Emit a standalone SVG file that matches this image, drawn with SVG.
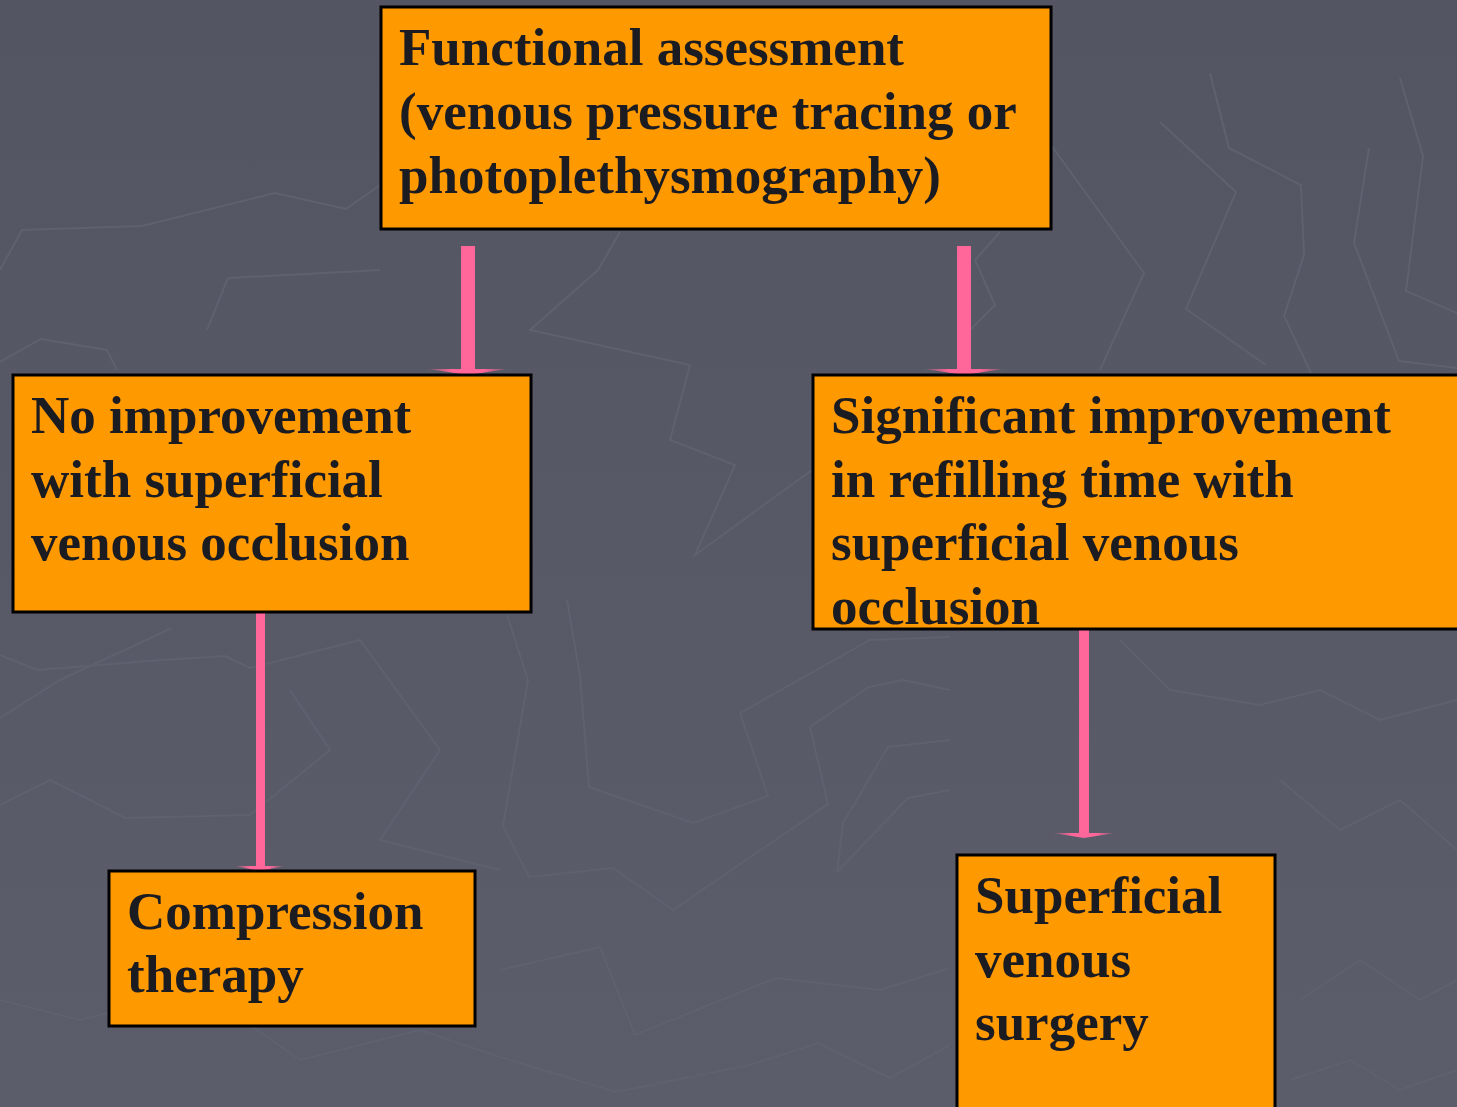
<svg xmlns="http://www.w3.org/2000/svg" width="1457" height="1107" viewBox="0 0 1457 1107">
<defs>
<linearGradient id="bg" x1="0" y1="0" x2="0" y2="1">
<stop offset="0" stop-color="#535563"/>
<stop offset="1" stop-color="#5b5d6b"/>
</linearGradient>
<linearGradient id="head" x1="0" y1="0" x2="1" y2="0">
<stop offset="0" stop-color="#ff6699" stop-opacity="0.2"/>
<stop offset="0.3" stop-color="#ff6699"/>
<stop offset="0.7" stop-color="#ff6699"/>
<stop offset="1" stop-color="#ff6699" stop-opacity="0.2"/>
</linearGradient>
</defs>
<style>
.bgl{fill:none;stroke:#5e616e;stroke-width:2}
.box{fill:#ff9900;stroke:#000;stroke-width:3}
.t{font-family:"Liberation Serif","Times New Roman",serif;font-weight:bold;font-size:53px;fill:#1b1b22}
.shaft{fill:#ff6699}
.head{fill:url(#head)}
</style>
<rect width="1457" height="1107" fill="url(#bg)"/>
<g id="background">
<polyline class="bgl" points="1210,73 1229,148 1301,185 1304,255 1284,316 1311,373"/>
<polyline class="bgl" points="1160,122 1236,192 1186,309 1266,365"/>
<polyline class="bgl" points="1369,148 1354,243 1399,361 1457,368"/>
<polyline class="bgl" points="1400,78 1423,156 1406,291 1457,313"/>
<polyline class="bgl" points="1040,130 1144,273 1100,370"/>
<polyline class="bgl" points="0,270 22,230 142,226 275,193 346,209 380,185"/>
<polyline class="bgl" points="207,330 228,278 380,270"/>
<polyline class="bgl" points="0,362 41,339 107,350 117,370"/>
<polyline class="bgl" points="620,232 598,270 530,330 690,365 670,440 735,465 695,555 812,470"/>
<polyline class="bgl" points="1000,232 975,260 995,305 960,340"/>
<polyline class="bgl" points="507,615 528,680 503,826 529,877 613,868 673,910 828,804 810,727 869,687 903,680 950,690"/>
<polyline class="bgl" points="567,600 580,676 589,787 693,823 768,796 740,713 870,640 950,637"/>
<polyline class="bgl" points="837,872 843,823 888,747 950,740"/>
<polyline class="bgl" points="837,872 908,798 950,790"/>
<polyline class="bgl" points="500,970 600,947 635,1035 776,978 880,990 950,968"/>
<polyline class="bgl" points="500,1057 616,1092 750,1065 818,1043 890,1078 950,1045"/>
<polyline class="bgl" points="0,655 37,670 100,665 160,660 225,656 250,668 360,640 440,750 380,840 500,870"/>
<polyline class="bgl" points="0,718 60,680 172,628"/>
<polyline class="bgl" points="0,805 50,780 90,800 125,818 250,815 330,750 290,690"/>
<polyline class="bgl" points="0,1000 80,1020 200,990 300,1060 420,1030 500,1057"/>
<polyline class="bgl" points="1120,640 1170,690 1260,705 1320,690 1380,720 1457,700"/>
<polyline class="bgl" points="1280,780 1340,830 1400,800 1457,850"/>
<polyline class="bgl" points="1300,1000 1360,960 1420,1000 1457,980"/>
<polyline class="bgl" points="1290,1080 1350,1060 1400,1090 1457,1070"/>
</g>
<g id="connectors">
<rect class="shaft" x="461" y="246" width="14" height="124"/>
<polygon class="head" points="428,369 507,369 468,375"/>
<rect class="shaft" x="957" y="246" width="14" height="124"/>
<polygon class="head" points="925,369 1003,369 964,375"/>
<rect class="shaft" x="256" y="613" width="9" height="255"/>
<polygon class="head" points="235,866 284,866 260,871"/>
<rect class="shaft" x="1079" y="630" width="10" height="204"/>
<polygon class="head" points="1053,833 1115,833 1084,838"/>
</g>
<g id="node-functional">
<rect class="box" x="381" y="7" width="670" height="222"/>
<text class="t" x="399" y="65">Functional assessment</text>
<text class="t" x="399" y="129">(venous pressure tracing or</text>
<text class="t" x="399" y="193">photoplethysmography)</text>
</g>
<g id="node-no-improvement">
<rect class="box" x="13" y="375" width="518" height="237"/>
<text class="t" x="31" y="433">No improvement</text>
<text class="t" x="31" y="497">with superficial</text>
<text class="t" x="31" y="560">venous occlusion</text>
</g>
<g id="node-significant">
<rect class="box" x="813" y="375" width="650" height="254"/>
<text class="t" x="831" y="433">Significant improvement</text>
<text class="t" x="831" y="497">in refilling time with</text>
<text class="t" x="831" y="560">superficial venous</text>
<text class="t" x="831" y="624">occlusion</text>
</g>
<g id="node-compression">
<rect class="box" x="109" y="871" width="366" height="155"/>
<text class="t" x="127" y="929">Compression</text>
<text class="t" x="127" y="992">therapy</text>
</g>
<g id="node-surgery">
<rect class="box" x="957" y="855" width="318" height="260"/>
<text class="t" x="975" y="913">Superficial</text>
<text class="t" x="975" y="977">venous</text>
<text class="t" x="975" y="1040">surgery</text>
</g>
</svg>
